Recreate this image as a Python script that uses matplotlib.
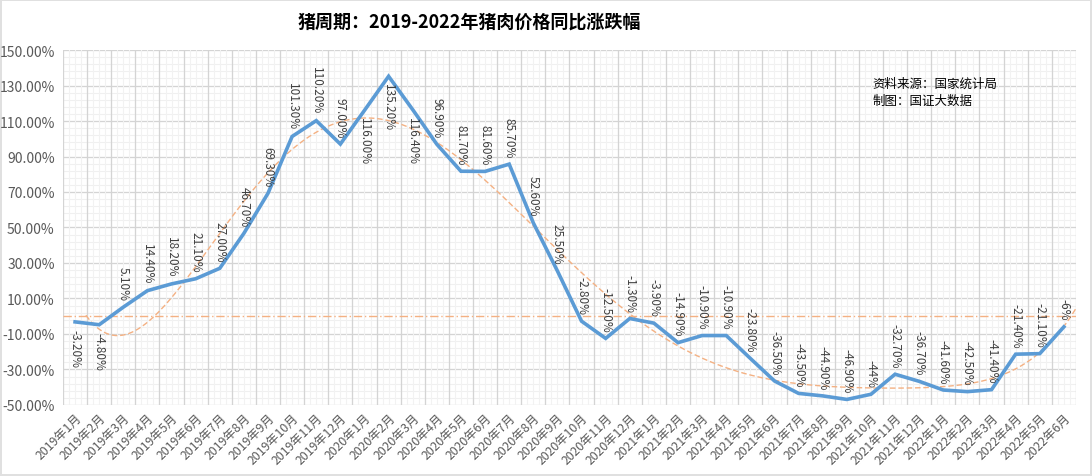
import numpy as np
import matplotlib
matplotlib.use("Agg")
import matplotlib.pyplot as plt
from matplotlib.ticker import FuncFormatter

plt.rcParams['font.family'] = ['Noto Sans CJK SC', 'DejaVu Sans']
plt.rcParams['axes.unicode_minus'] = False

months = [f"{y}年{m}月" for y in (2019, 2020, 2021) for m in range(1, 13)] + \
         [f"2022年{m}月" for m in range(1, 7)]
values = [-3.2, -4.8, 5.1, 14.4, 18.2, 21.1, 27.0, 46.7, 69.3, 101.3, 110.2, 97.0,
          116.0, 135.2, 116.4, 96.9, 81.7, 81.6, 85.7, 52.6, 25.5, -2.8, -12.5, -1.3,
          -3.9, -14.9, -10.9, -10.9, -23.8, -36.5, -43.5, -44.9, -46.9, -44.0, -32.7, -36.7,
          -41.6, -42.5, -41.4, -21.4, -21.1, -6.0]
# labels typed without decimals in the source sheet
plain_labels = {"2021年10月", "2022年6月"}
below_labels = {"2019年1月", "2019年2月", "2020年1月", "2020年2月", "2020年3月"}

title = "猪周期：2019-2022年猪肉价格同比涨跌幅"
note = "资料来源：国家统计局\n制图：国证大数据"

x = np.arange(len(months))
y = np.array(values)

fig = plt.figure(figsize=(10.92, 4.77), dpi=100)
fig.patch.set_edgecolor('#E0E0E0')
fig.patch.set_linewidth(1.5)
ax = fig.add_axes([0.0577, 0.149, 0.9276, 0.744])

ax.set_xlim(-0.5, len(months) - 0.5)
ax.set_ylim(-50, 150)
ax.set_yticks(np.arange(-50, 151, 20))
ax.yaxis.set_major_formatter(FuncFormatter(lambda v, p: f"{v:.2f}%"))
ax.set_xticks(x)
ax.set_xticklabels(months, rotation=45, ha='right', rotation_mode='anchor',
                   fontsize=8.8, color='#595959')
ax.tick_params(axis='y', labelsize=10, colors='#595959', length=0, pad=6)
ax.tick_params(axis='x', which='both', length=0, pad=4)

# grid
for yy in np.arange(-50, 151, 4):
    ax.axhline(yy, color='#F0F0F0', lw=0.8, zorder=0)
for yy in np.arange(-50, 151, 20):
    ax.axhline(yy, color='#D4D4D4', lw=0.9, zorder=0)
for xx in np.arange(-0.5, len(months), 0.25):
    ax.axvline(xx, color='#F2F2F2', lw=0.8, zorder=0)
for xx in np.arange(-0.5, len(months) + 0.5, 1):
    ax.axvline(xx, color='#D4D4D4', lw=0.9, zorder=0)
for s in ax.spines.values():
    s.set_visible(False)

# zero reference line and polynomial trend
ax.axhline(0, color='#F4B183', lw=1.0, ls=(0, (6, 2, 1, 2)), zorder=1)
coef = np.polyfit(x, y, 6)
xt = np.linspace(0.45, 41.6, 300)
ax.plot(xt, np.polyval(coef, xt), color='#F4B183', lw=1.0, ls=(0, (4, 2)), zorder=2)

ax.plot(x, y, color='#5B9BD5', lw=2.6, zorder=3, solid_joinstyle='miter')

for xi, v, m in zip(x, values, months):
    txt = f"{v:.0f}%" if m in plain_labels else f"{v:.2f}%"
    if m in below_labels:
        ax.annotate(txt, (xi, v), xytext=(0, -5), textcoords='offset points',
                    rotation=270, ha='center', va='top', fontsize=8.5, color='#404040')
    else:
        ax.annotate(txt, (xi, v), xytext=(0, 5), textcoords='offset points',
                    rotation=270, ha='center', va='bottom', fontsize=8.5, color='#404040')

fig.text(0.43, 0.953, title, ha='center', va='center', fontsize=13,
         fontweight='bold', color='#000000')
fig.text(0.799, 0.805, note, ha='left', va='center', fontsize=9,
         color='#000000', linespacing=1.35)

fig.savefig("out.png", dpi=100)
